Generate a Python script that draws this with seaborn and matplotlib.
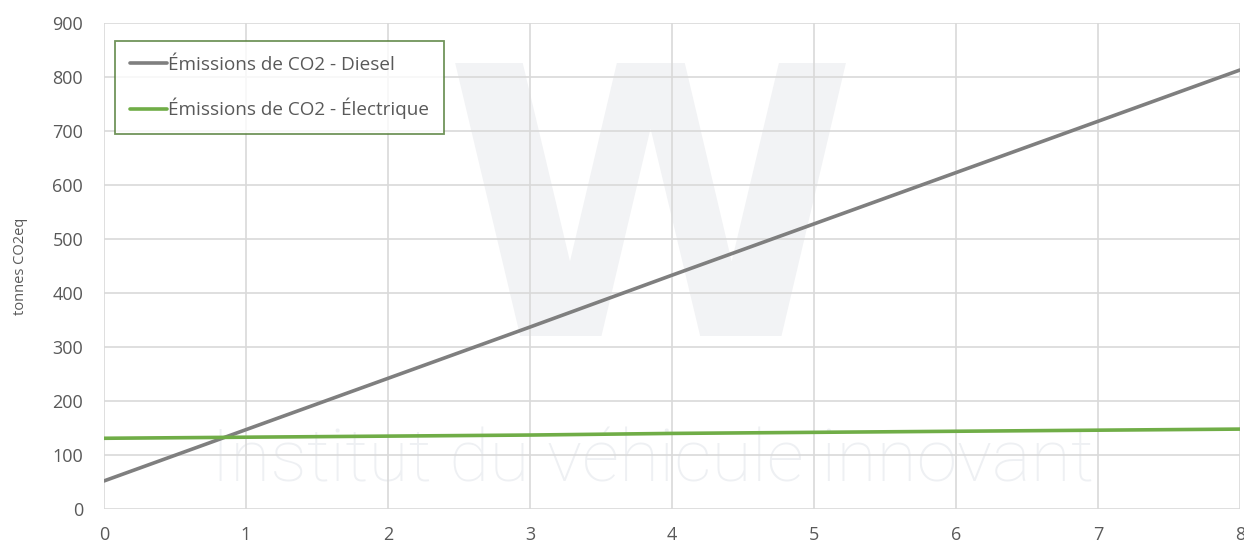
import numpy as np
import pandas as pd
import matplotlib
matplotlib.use("Agg")
import matplotlib.pyplot as plt
import seaborn as sns

# Years of operation and cumulative emissions (tonnes CO2eq)
years = [0, 1, 2, 3, 4, 5, 6, 7, 8]
diesel = [52, 147, 242, 337, 433, 528, 623, 718, 813]
electric = [131, 133, 135, 137, 140, 142, 144, 146, 148]
series_names = ["Émissions de CO2 - Diesel", "Émissions de CO2 - Électrique"]
series_colors = ["#7f7f7f", "#70ad47"]
y_ticks = [0, 100, 200, 300, 400, 500, 600, 700, 800, 900]
x_ticks = [0, 1, 2, 3, 4, 5, 6, 7, 8]
y_label = "tonnes CO2eq"

df = pd.DataFrame({
    "year": years * 2,
    "value": diesel + electric,
    "series": [series_names[0]] * len(years) + [series_names[1]] * len(years),
})

sns.set_theme(style="white")
plt.rcParams["font.family"] = ["Open Sans", "DejaVu Sans"]

fig = plt.figure(figsize=(12.44, 5.44), dpi=100)
ax = fig.add_axes([0.0836, 0.0643, 0.9132, 0.8934])

# Background watermark
ax.text(0.481, 0.569, "W", transform=ax.transAxes, ha="center", va="center",
        fontsize=270, fontweight="bold", color="#f2f3f5", zorder=0.1,
        family=["DejaVu Sans"])
ax.text(0.483, 0.056, "Institut du véhicule innovant", transform=ax.transAxes,
        ha="center", va="baseline", fontsize=52.8, fontweight=100,
        color="#eef0f3", zorder=0.1, family=["Roboto", "DejaVu Sans"])

sns.lineplot(data=df, x="year", y="value", hue="series",
             palette=dict(zip(series_names, series_colors)),
             linewidth=2.6, ax=ax, legend=True, zorder=3)

ax.set_xlim(0, 8)
ax.set_ylim(0, 900)
ax.set_xticks(x_ticks)
ax.set_yticks(y_ticks)
ax.set_axisbelow(True)
ax.grid(True, color="#d9d9d9", linewidth=1.2)
for s in ax.spines.values():
    s.set_visible(False)
ax.tick_params(axis="x", length=0, labelsize=13, colors="#595959", pad=12)
ax.tick_params(axis="y", length=0, labelsize=13, colors="#595959", pad=15)
ax.set_xlabel("")
ax.set_ylabel(y_label, fontsize=10.5, color="#595959")
ax.yaxis.set_label_coords(-0.067, 0.5)

leg = ax.legend(loc="upper left", bbox_to_anchor=(0.0097, 0.963),
                frameon=True, fancybox=False, fontsize=13.6,
                handlelength=1.95, handletextpad=0.05, labelspacing=1.25,
                borderpad=0.8, borderaxespad=0)
leg.get_frame().set_edgecolor("#4e7a32")
leg.get_frame().set_linewidth(1.3)
for t in leg.get_texts():
    t.set_color("#595959")
for h in leg.get_lines():
    h.set_linewidth(2.6)

fig.savefig("out.png", dpi=100, facecolor="white")
